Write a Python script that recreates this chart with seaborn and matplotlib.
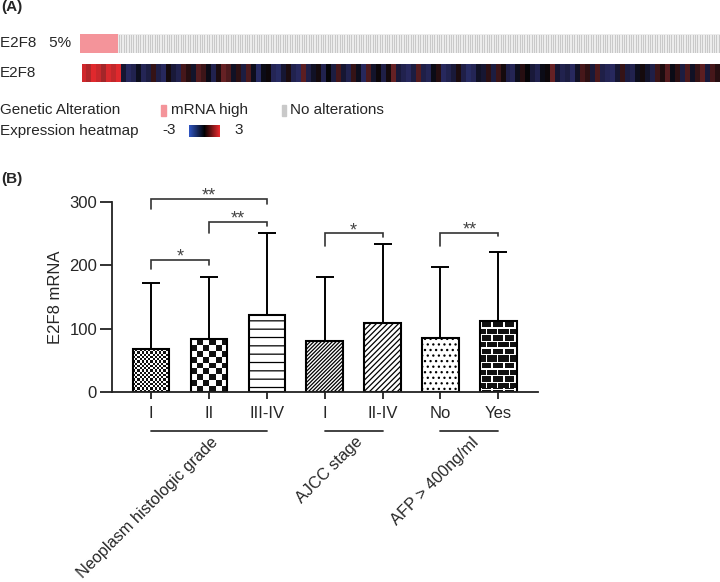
import numpy as np
import pandas as pd
import matplotlib
matplotlib.use("Agg")
import matplotlib.pyplot as plt
import seaborn as sns
from matplotlib.colors import LinearSegmentedColormap, ListedColormap
from matplotlib.patches import Rectangle
from matplotlib.transforms import blended_transform_factory

# ------------------------------------------------------------
# DATA
# ------------------------------------------------------------
# panel A: oncoprint
n_samples = 370
n_altered = 22
# expression z-scores (coarse, left to right)
expr_z = [
    2.6, 2.2, 2.8, 2.5, 2.0, 2.7, 2.4, 2.8,
    -0.6, -1.2, -1.0, -0.3, -1.1, -0.8, 0.6, -0.9, -1.2, 0.2, -0.7, -1.0,
    0.8, 0.4, -0.5, 1.0, 0.7, -0.2, -1.0, 0.3, 1.2, 0.9, -0.4, 0.5,
    -0.8, 0.9, -0.3, -1.3, -0.2, 0.1, -1.1, -1.3, -0.6, 0.3, -1.0, -1.2,
    1.1, -0.9, -0.4, 0.2, -1.0, 0.0, -0.8, 0.8, -0.6, -1.0, 0.6, -0.3,
    -1.2, 0.9, -0.5, 0.1, -0.9, 0.2, 1.2, -0.7,
    -1.0, -1.2, -0.8, 1.0, -0.9, -1.1, -0.2, 0.4, -1.2, -1.0, -0.7, 0.3,
    -0.9, -1.3, -1.1, -0.4, -0.6, 0.5, -0.8, 0.7, 0.2, -0.9, -1.1, -0.3,
    0.4, 0.0, -0.7, -1.0, -0.2, 0.1, 1.2, -0.6,
    -1.0, -0.8, -1.2, -0.4, 0.8, 0.5, -0.7, 0.9, -0.9, -1.1, -1.2, -0.6,
    0.6, -0.8, -1.0, -0.3, 0.2, -0.5, -0.9, 0.7, 0.3, 1.0, -0.2, 0.5,
    -0.8, 0.9, -0.4, 0.6, 1.1, -0.7, 0.8, 0.4,
]

# panel B: bars
groups = ["Neoplasm histologic grade", "AJCC stage", "AFP > 400ng/ml"]
group_of_bar = [0, 0, 0, 1, 1, 2, 2]
bar_labels = ["I", "II", "III-IV", "I", "II-IV", "No", "Yes"]
bar_mean = [67, 83.5, 122, 81, 109.5, 85.5, 112.5]
bar_upper = [172, 181, 251, 182, 233.5, 198, 221]   # top of SD whisker

# comparisons: (bar a, bar b, bracket top, leg a end, leg b end, stars)
comparisons = [
    (0, 2, 306, 289, 298, "**"),
    (1, 2, 269, 252, 262, "**"),
    (0, 1, 209, 194, 201, "*"),
    (3, 4, 251, 231, 245, "*"),
    (5, 6, 252, 231, 246, "**"),
]

# ------------------------------------------------------------
# STYLE
# ------------------------------------------------------------
sns.set_style("white")
plt.rcParams["font.family"] = ["Liberation Sans", "DejaVu Sans"]
plt.rcParams["hatch.linewidth"] = 0.9
plt.rcParams["hatch.color"] = "black"

W, H = 720, 582
fig = plt.figure(figsize=(W / 100, H / 100), dpi=100)
FS_A = 11


def fbox(x0, y0, x1, y1):
    # pixel box (top-left origin) -> figure fraction rect
    return [x0 / W, 1 - y1 / H, (x1 - x0) / W, (y1 - y0) / H]


def ftxt(x, y, s, **kw):
    fig.text(x / W, 1 - y / H, s, **kw)


# ============================================================
# PANEL A
# ============================================================
ftxt(1, 7, "(A)", fontsize=FS_A, fontweight="bold", va="center")
ftxt(0, 43, "E2F8   5%", fontsize=FS_A, va="center")
ftxt(0, 73, "E2F8", fontsize=FS_A, va="center")

status = np.array([[1] * n_altered + [0] * (n_samples - n_altered)])
ax_onc = fig.add_axes(fbox(80, 33.5, 720, 52.5))
sns.heatmap(status, mask=status == 1, ax=ax_onc, cmap=ListedColormap(["#c9c9c9", "#c9c9c9"]),
            cbar=False, xticklabels=False, yticklabels=False,
            linewidths=0.45, linecolor="#ececec")
sns.heatmap(status, mask=status == 0, ax=ax_onc, cmap=ListedColormap(["#f4949a", "#f4949a"]),
            cbar=False, xticklabels=False, yticklabels=False)

expr_cmap = LinearSegmentedColormap.from_list(
    "expr", [(0, "#2f56c4"), (0.3, "#27285c"), (0.5, "#050508"), (0.72, "#6e2326"), (1, "#ee2a2e")])
ax_exp = fig.add_axes(fbox(81.5, 64, 720, 82.5))
sns.heatmap(np.array([expr_z]), ax=ax_exp, cmap=expr_cmap, vmin=-3, vmax=3,
            cbar=False, xticklabels=False, yticklabels=False)

# legend
ftxt(0, 110, "Genetic Alteration", fontsize=FS_A, va="center")
fig.patches.append(Rectangle((161 / W, 1 - 116 / H), 5 / W, 11 / H,
                             transform=fig.transFigure, color="#f4949a"))
ftxt(171, 110, "mRNA high", fontsize=FS_A, va="center")
fig.patches.append(Rectangle((282 / W, 1 - 116 / H), 4 / W, 11 / H,
                             transform=fig.transFigure, color="#c9c9c9"))
ftxt(290.5, 110, "No alterations", fontsize=FS_A, va="center")

ftxt(0, 130.5, "Expression heatmap", fontsize=FS_A, va="center")
ftxt(162, 130.5, "-3", fontsize=FS_A, va="center")
ax_cb = fig.add_axes(fbox(189, 125, 220, 136.5))
sns.heatmap(np.linspace(-3, 3, 64)[None, :], ax=ax_cb,
            cmap=LinearSegmentedColormap.from_list("lg", ["#2f56c4", "#000000", "#ee2a2e"]),
            vmin=-3, vmax=3, cbar=False, xticklabels=False, yticklabels=False)
ftxt(234, 130.5, "3", fontsize=FS_A, va="center")

# ============================================================
# PANEL B
# ============================================================
ftxt(1, 179, "(B)", fontsize=FS_A, fontweight="bold", va="center")

df = pd.DataFrame({"key": [f"{g}-{l}" for g, l in zip(group_of_bar, bar_labels)],
                   "mean": bar_mean})

ax = fig.add_axes(fbox(112.3, 183.4, 538.3, 391.7))
sns.barplot(data=df, x="key", y="mean", ax=ax, color="white", saturation=1,
            edgecolor="black", linewidth=1.5, width=0.63, errorbar=None)

XMIN, XMAX, YMAX = -0.668, 6.69, 330
ax.set_xlim(XMIN, XMAX)
ax.set_ylim(0, YMAX)

xpos = np.arange(len(bar_mean))
err = np.array(bar_upper) - np.array(bar_mean)
ax.errorbar(xpos, bar_mean, yerr=[np.zeros_like(err), err], fmt="none",
            ecolor="black", elinewidth=1.4, capsize=6.5, capthick=1.4, zorder=0.5)

# fill patterns
bars = ax.patches[:len(bar_mean)]
px_x = ax.bbox.width / (XMAX - XMIN)
px_y = ax.bbox.height / YMAX


def pattern_image(bar, arr):
    x0, w, h = bar.get_x(), bar.get_width(), bar.get_height()
    bar.set_facecolor("none")
    bar.set_zorder(2)
    ax.imshow(arr, extent=(x0, x0 + w, 0, h), cmap=ListedColormap(["white", "#111111"]),
              vmin=0, vmax=1, interpolation="nearest", aspect="auto", origin="upper", zorder=1.5)


def checker(bar, cell):
    nx = max(1, int(round(bar.get_width() * px_x / cell)))
    ny = max(1, int(round(bar.get_height() * px_y / cell)))
    j, i = np.meshgrid(np.arange(nx), np.arange(ny))
    return (i + j) % 2


def brick(bar, bw=11, bh=6.7):
    nx = int(round(bar.get_width() * px_x))
    ny = int(round(bar.get_height() * px_y))
    c, r = np.meshgrid(np.arange(nx), np.arange(ny))
    row = (r / bh).astype(int)
    mortar = ((r % bh) < 1.3) | (((c + (row % 2) * bw / 2) % bw) < 1.3)
    return np.where(mortar, 0, 1)


pattern_image(bars[0], checker(bars[0], 2.2) * 0.8)
pattern_image(bars[1], checker(bars[1], 5.8))
bars[2].set_hatch("--")
bars[3].set_hatch("/" * 9)
bars[4].set_hatch("/" * 6)
bars[5].set_hatch("...")
pattern_image(bars[6], brick(bars[6]))
ax.set_xlim(XMIN, XMAX)
ax.set_ylim(0, YMAX)

# significance brackets
for a, b, top, la, lb, stars in comparisons:
    ax.plot([a, a, b, b], [la, top, top, lb], color="#333333", lw=1.2,
            solid_joinstyle="miter", clip_on=False)
    ax.text((a + b) / 2, top - 3, stars, ha="center", va="baseline",
            fontsize=13, color="#444444")

# axes styling
sns.despine(ax=ax)
for s in ["left", "bottom"]:
    ax.spines[s].set_linewidth(1.3)
    ax.spines[s].set_color("#222222")
ax.spines["left"].set_bounds(0, 300)
ax.set_yticks([0, 100, 200, 300])
ax.set_xticks(xpos)
ax.set_xticklabels(bar_labels)
ax.tick_params(axis="y", length=9, width=1.3, color="#222222", labelsize=12, pad=2, left=True)
ax.tick_params(axis="x", length=5, width=1.3, color="#222222", labelsize=12, pad=5, bottom=True)
ax.set_xlabel("")
ax.set_ylabel("E2F8 mRNA", fontsize=12)
ax.yaxis.set_label_coords(-0.115, 150 / YMAX)

# group lines and rotated group labels
trans = blended_transform_factory(ax.transData, ax.transAxes)
for g, name in enumerate(groups):
    idx = [i for i, gg in enumerate(group_of_bar) if gg == g]
    ax.plot([idx[0], idx[-1]], [-0.187, -0.187], color="#333333", lw=1.3,
            transform=trans, clip_on=False)
    ax.text((idx[0] + idx[-1]) / 2 + 0.02, -0.205, name, transform=trans,
            rotation=45, rotation_mode="anchor", ha="right", va="top", fontsize=11.7)

fig.savefig("out.png", dpi=100)
